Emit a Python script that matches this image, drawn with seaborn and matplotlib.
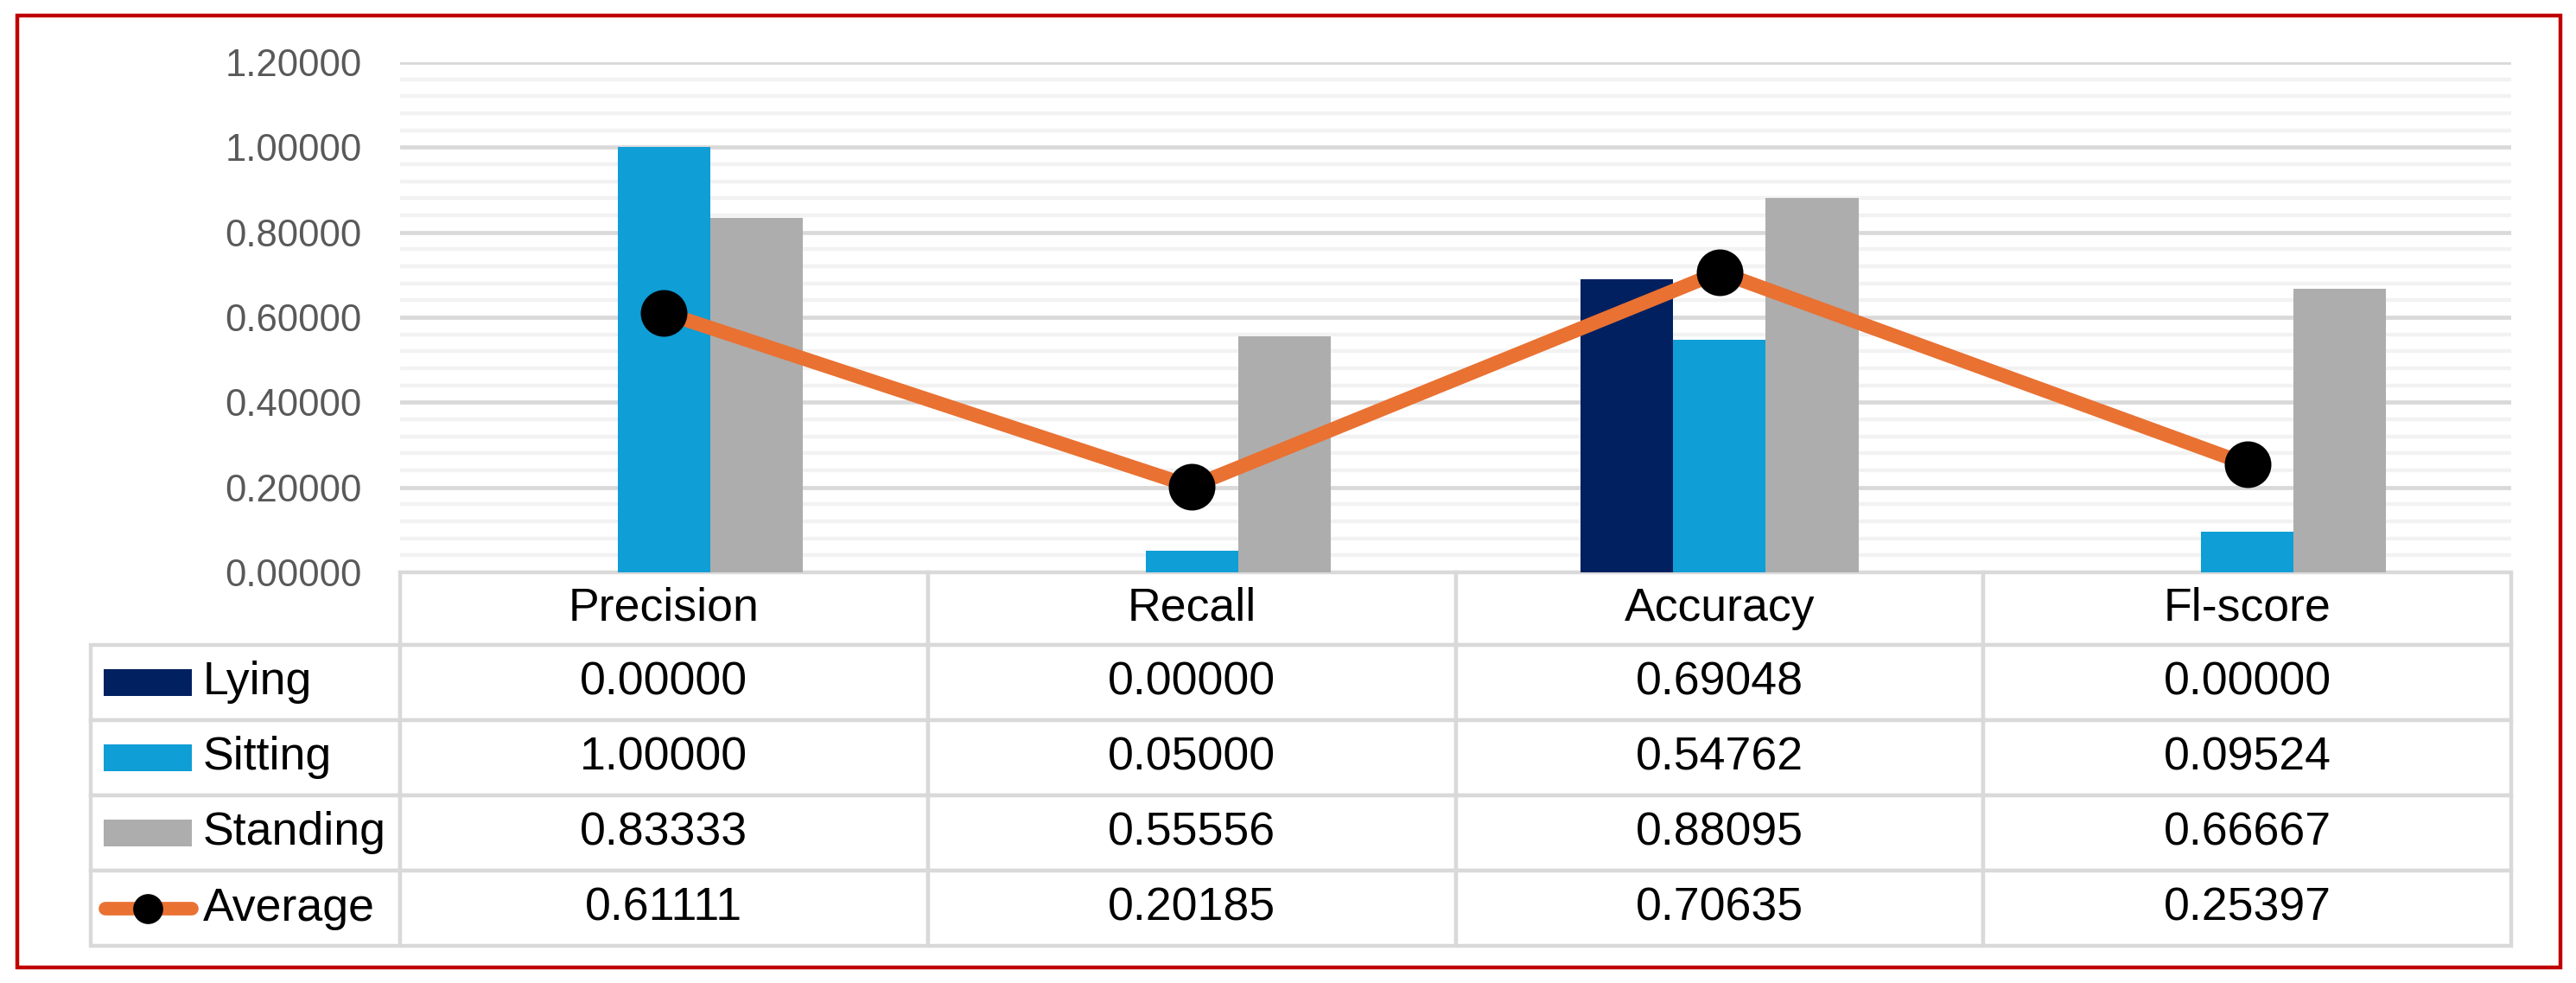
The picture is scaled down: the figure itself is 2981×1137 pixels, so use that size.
import pandas as pd
import numpy as np
import matplotlib
matplotlib.use("Agg")
import matplotlib.pyplot as plt
import seaborn as sns
from matplotlib.table import Table
from matplotlib.patches import Rectangle
from matplotlib.lines import Line2D
from matplotlib.ticker import StrMethodFormatter

# data
metrics = ["Precision", "Recall", "Accuracy", "Fl-score"]
classes = ["Lying", "Sitting", "Standing"]
lying = [0.00000, 0.00000, 0.69048, 0.00000]
sitting = [1.00000, 0.05000, 0.54762, 0.09524]
standing = [0.83333, 0.55556, 0.88095, 0.66667]
average = [0.61111, 0.20185, 0.70635, 0.25397]

colors = {"Lying": "#002060", "Sitting": "#0F9ED5", "Standing": "#ADADAD"}
orange = "#E97132"
gridc = "#D9D9D9"

sns.set_style("white")
plt.rcParams['font.family'] = ['Liberation Sans', 'DejaVu Sans']

df = pd.DataFrame({
    "metric": metrics * 3,
    "cls": ["Lying"] * 4 + ["Sitting"] * 4 + ["Standing"] * 4,
    "value": lying + sitting + standing,
})

W, H = 2981, 1137
fig = plt.figure(figsize=(W / 200, H / 200), dpi=200)
ax = fig.add_axes([463 / W, 1 - 662 / H, (2906 - 463) / W, (662 - 72) / H])

sns.barplot(data=df, x="metric", y="value", hue="cls", hue_order=classes,
            palette=colors, saturation=1, width=0.526, linewidth=0,
            errorbar=None, legend=False, ax=ax)
sns.pointplot(x=metrics, y=average, color=orange, markers="o",
              markersize=15, linewidth=5.9, errorbar=None, ax=ax)
for ln in ax.lines:
    ln.set_markerfacecolor("black")
    ln.set_markeredgecolor("black")
    ln.set_solid_capstyle("round")
    ln.set_solid_joinstyle("round")
    ln.set_zorder(5)

ax.set_ylim(0, 1.2)
ax.set_xlim(-0.5, 3.5)
ax.set_yticks(np.arange(0, 1.21, 0.2))
ax.set_yticks(np.arange(0, 1.21, 0.04), minor=True)
ax.yaxis.set_major_formatter(StrMethodFormatter("{x:.5f}"))
ax.yaxis.grid(True, which="minor", color="#F2F2F2", linewidth=1.6)
ax.yaxis.grid(True, which="major", color=gridc, linewidth=1.7)
ax.xaxis.grid(False)
ax.set_axisbelow(True)
ax.tick_params(axis="y", which="both", length=0, pad=16, labelsize=15.7, labelcolor="#595959")
ax.tick_params(axis="x", length=0, labelbottom=False)
ax.set_xlabel("")
ax.set_ylabel("")
for s in ax.spines.values():
    s.set_visible(False)

# data table under the chart (label column sits left of the grid bbox)
lab_w = (463 - 105) / (2906 - 463)
tab_h = (1094 - 662) / (662 - 72)
tb = Table(ax, bbox=[0, -tab_h, 1, tab_h])
tb.auto_set_font_size(False)
col_w = 0.25
rows = [lying, sitting, standing, average]
row_names = classes + ["Average"]
for c, m in enumerate(metrics):
    tb.add_cell(0, c, width=col_w, height=84, text=m, loc="center",
                edgecolor=gridc, facecolor="white")
for r, (name, vals) in enumerate(zip(row_names, rows), start=1):
    cell = tb.add_cell(r, -1, width=lab_w, height=87, text=name, loc="left",
                       edgecolor=gridc, facecolor="white")
    cell.PAD = 0.363
    for c, v in enumerate(vals):
        tb.add_cell(r, c, width=col_w, height=87, text=f"{v:.5f}", loc="center",
                    edgecolor=gridc, facecolor="white")
for cell in tb.get_celld().values():
    cell.set_linewidth(1.6)
    cell.get_text().set_fontsize(19.3)
    cell.get_text().set_color("black")
tb.set_clip_on(False)
ax.add_table(tb)

fig.canvas.draw()

# legend keys inside the row-label cells
for r, name in enumerate(row_names, start=1):
    cell = tb[(r, -1)]
    x0, y0, w, h = cell.get_x(), cell.get_y(), cell.get_width(), cell.get_height()
    if name in colors:
        ax.add_patch(Rectangle((x0 + 0.042 * w, y0 + h * (0.5 - 0.178)), 0.285 * w, 0.356 * h,
                               facecolor=colors[name], edgecolor="none",
                               transform=ax.transAxes, clip_on=False, zorder=6))
    else:
        ax.add_line(Line2D([x0 + 0.047 * w, x0 + 0.327 * w], [y0 + h / 2, y0 + h / 2],
                           color=orange, linewidth=5.65, solid_capstyle="round",
                           transform=ax.transAxes, clip_on=False, zorder=6))
        ax.add_line(Line2D([x0 + 0.184 * w], [y0 + h / 2], marker="o", markersize=11.5,
                           markerfacecolor="black", markeredgecolor="black", linestyle="none",
                           transform=ax.transAxes, clip_on=False, zorder=7))

# red frame round the whole chart
fig.patches.append(Rectangle((19.5 / W, 1 - 1119 / H), (2963 - 19.5) / W, (1119 - 17.5) / H,
                             transform=fig.transFigure, fill=False, edgecolor="#C00000",
                             linewidth=1.6))

fig.savefig("out.png", dpi=200)
